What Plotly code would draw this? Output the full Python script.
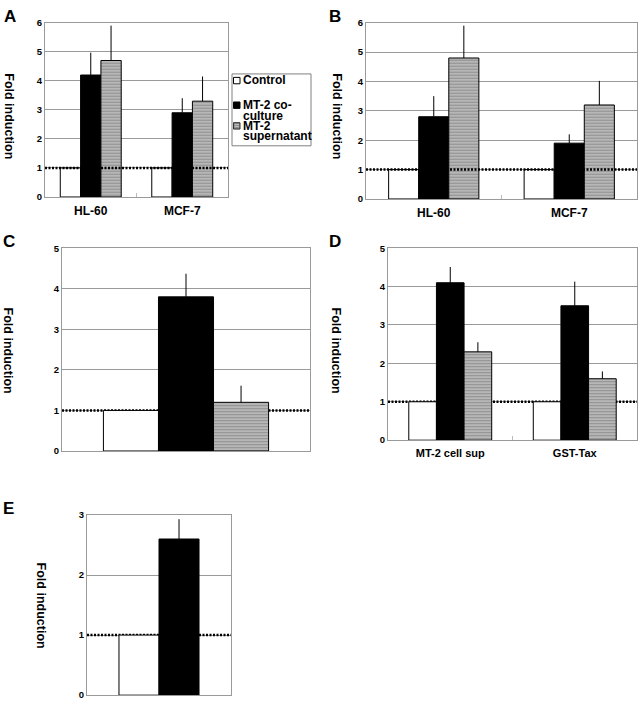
import plotly.graph_objects as go

# ---------------- data ----------------
cats_AB = ["HL-60", "MCF-7"]
A_control = [1, 1]
A_coculture = [4.2, 2.9]
A_coculture_err = [0.77, 0.5]
A_super = [4.7, 3.3]
A_super_err = [1.2, 0.85]

B_control = [1, 1]
B_coculture = [2.8, 1.9]
B_coculture_err = [0.7, 0.3]
B_super = [4.8, 3.2]
B_super_err = [1.1, 0.82]

cats_C = ["C"]
C_control = [1]
C_coculture = [3.8]
C_coculture_err = [0.57]
C_super = [1.2]
C_super_err = [0.41]

cats_D = ["MT-2 cell sup", "GST-Tax"]
D_control = [1, 1]
D_coculture = [4.1, 3.5]
D_coculture_err = [0.41, 0.63]
D_super = [2.3, 1.6]
D_super_err = [0.25, 0.19]

cats_E = ["E"]
E_control = [1]
E_coculture = [2.6]
E_coculture_err = [0.33]

legend_names = ["Control", "MT-2 co-culture", "MT-2 supernatant"]
y_title = "Fold induction"

# ---------------- layout helpers ----------------
W, H = 640, 710
FONT = "Liberation Sans, Arial, sans-serif"
GRID = "#9a9a9a"


def px_x(p):
    return p / W


def px_y(p):
    return 1 - p / H


fig = go.Figure()

STRIPE = dict(shape="-", fgcolor="#5a5a5a", bgcolor="#c4c4c4", size=3, solidity=0.5)


def add_panel(idx, cats, control, cocult, cocult_err, sup=None, sup_err=None, w=0.222):
    xa = "x" if idx == 1 else f"x{idx}"
    ya = "y" if idx == 1 else f"y{idx}"
    n = 3 if sup is not None else 2
    offs = [-n / 2 * w + k * w for k in range(n)]
    fig.add_trace(go.Bar(x=cats, y=control, xaxis=xa, yaxis=ya, width=w, offset=offs[0],
                         marker=dict(color="white", line=dict(color="black", width=1)),
                         name=legend_names[0], showlegend=False))
    fig.add_trace(go.Bar(x=cats, y=cocult, xaxis=xa, yaxis=ya, width=w, offset=offs[1],
                         marker=dict(color="black", line=dict(color="black", width=1)),
                         error_y=dict(type="data", array=cocult_err, arrayminus=[0] * len(cats),
                                      symmetric=False, color="black", thickness=1, width=0),
                         name=legend_names[1], showlegend=False))
    if sup is not None:
        fig.add_trace(go.Bar(x=cats, y=sup, xaxis=xa, yaxis=ya, width=w, offset=offs[2],
                             marker=dict(color="#c4c4c4", line=dict(color="black", width=1),
                                         pattern=STRIPE),
                             error_y=dict(type="data", array=sup_err, arrayminus=[0] * len(cats),
                                          symmetric=False, color="black", thickness=1, width=0),
                             name=legend_names[2], showlegend=False))


add_panel(1, cats_AB, A_control, A_coculture, A_coculture_err, A_super, A_super_err)
add_panel(2, cats_AB, B_control, B_coculture, B_coculture_err, B_super, B_super_err)
add_panel(3, cats_C, C_control, C_coculture, C_coculture_err, C_super, C_super_err)
add_panel(4, cats_D, D_control, D_coculture, D_coculture_err, D_super, D_super_err)
add_panel(5, cats_E, E_control, E_coculture, E_coculture_err, w=0.278)

# panel geometry in pixels: (x0, x1, ytop, ybottom, ymax, show x labels, x font, n categories)
panels = {
    1: (45, 228, 17, 194, 6, True, 12, 2),
    2: (366, 637, 17, 196, 6, True, 12, 2),
    3: (62, 310, 246, 452, 5, False, 11, 1),
    4: (388, 637, 246, 441, 5, True, 11, 2),
    5: (87, 231, 517, 700, 3, False, 11, 1),
}

layout = dict(
    width=W, height=H, autosize=False,
    margin=dict(l=0, r=0, t=0, b=0),
    paper_bgcolor="white", plot_bgcolor="white",
    barmode="overlay", showlegend=False,
    font=dict(family=FONT, color="black"),
)
for i, (x0, x1, yt, yb, ymax, showx, xfs, nc) in panels.items():
    xk = "xaxis" if i == 1 else f"xaxis{i}"
    yk = "yaxis" if i == 1 else f"yaxis{i}"
    ya = "y" if i == 1 else f"y{i}"
    xa = "x" if i == 1 else f"x{i}"
    layout[xk] = dict(domain=[px_x(x0), px_x(x1)], anchor=ya, range=[-0.5, nc - 0.5],
                      showline=True, mirror=True, linecolor=GRID, linewidth=1,
                      showgrid=False, zeroline=False,
                      ticks="inside", ticklen=4, tickcolor="#bbbbbb", tickson="boundaries",
                      showticklabels=showx, ticklabelstandoff=3,
                      tickfont=dict(family=FONT, size=xfs, weight="bold", color="black"),
                      fixedrange=True)
    layout[yk] = dict(domain=[px_y(yb), px_y(yt)], anchor=xa, range=[0, ymax],
                      dtick=1, tick0=0,
                      showline=True, mirror=True, linecolor=GRID, linewidth=1,
                      showgrid=True, gridcolor=GRID, gridwidth=1, zeroline=False,
                      ticks="", tickfont=dict(family=FONT, size=9.5, weight="bold", color="black"),
                      fixedrange=True)
fig.update_layout(**layout)

# dotted reference lines at 1 (drawn over bars in A and B, behind bars in C, D, E)
for i, p in panels.items():
    xa = "x" if i == 1 else f"x{i}"
    ya = "y" if i == 1 else f"y{i}"
    nc = p[7]
    fig.add_shape(type="line", xref=xa, yref=ya, x0=-0.5, x1=nc - 0.5, y0=1, y1=1,
                  line=dict(color="black", width=2.5, dash="2px,1.5px"),
                  layer="above" if i in (1, 2) else "between")

annotations = []
# panel letters
for letter, (cx, cy) in {"A": (9.5, 11), "B": (335, 11), "C": (9, 239),
                         "D": (335, 239), "E": (8.5, 510)}.items():
    annotations.append(dict(text=letter, x=px_x(cx), y=px_y(cy), xref="paper", yref="paper",
                            showarrow=False, xanchor="center", yanchor="middle",
                            font=dict(family=FONT, size=17, weight="bold", color="black")))
# y titles (rotated, reading top to bottom)
for (cx, cy) in [(9, 112), (337, 112), (8, 350), (336, 350), (41, 609)]:
    annotations.append(dict(text=y_title, x=px_x(cx), y=px_y(cy), xref="paper", yref="paper",
                            showarrow=False, xanchor="center", yanchor="middle", textangle=90,
                            font=dict(family=FONT, size=12.5, weight="bold", color="black")))

# manual legend (panel A)
leg_lines = [("Control", 75.5), ("MT-2 co-", 101), ("culture", 111.5),
             ("MT-2", 122), ("supernatant", 132.5)]
for txt, cy in leg_lines:
    annotations.append(dict(text=txt, x=px_x(241), y=px_y(cy),
                            xref="paper", yref="paper", showarrow=False,
                            xanchor="left", yanchor="middle",
                            font=dict(family=FONT, size=12, weight="bold", color="black")))
fig.update_layout(annotations=annotations)

shapes_paper = [
    dict(type="rect", x0=px_x(232), x1=px_x(311), y0=px_y(142), y1=px_y(69),
         line=dict(color="#808080", width=1), fillcolor="rgba(0,0,0,0)"),
    dict(type="rect", x0=px_x(233.5), x1=px_x(240), y0=px_y(79), y1=px_y(72.5),
         line=dict(color="black", width=1), fillcolor="white"),
    dict(type="rect", x0=px_x(233.5), x1=px_x(240), y0=px_y(104), y1=px_y(97.5),
         line=dict(color="black", width=1), fillcolor="black"),
    dict(type="rect", x0=px_x(233.5), x1=px_x(240), y0=px_y(125), y1=px_y(118.5),
         line=dict(color="#333333", width=1), fillcolor="#8a8a8a"),
]
for yy in (120.5, 122.5):
    shapes_paper.append(dict(type="line", x0=px_x(234.5), x1=px_x(239), y0=px_y(yy), y1=px_y(yy),
                             line=dict(color="#d0d0d0", width=0.8)))
for s in shapes_paper:
    s.update(xref="paper", yref="paper", layer="above")
    fig.add_shape(**s)

fig.write_html("out.html", config={"displayModeBar": False},
               post_script="document.body.style.margin='0';document.body.style.padding='0';")
